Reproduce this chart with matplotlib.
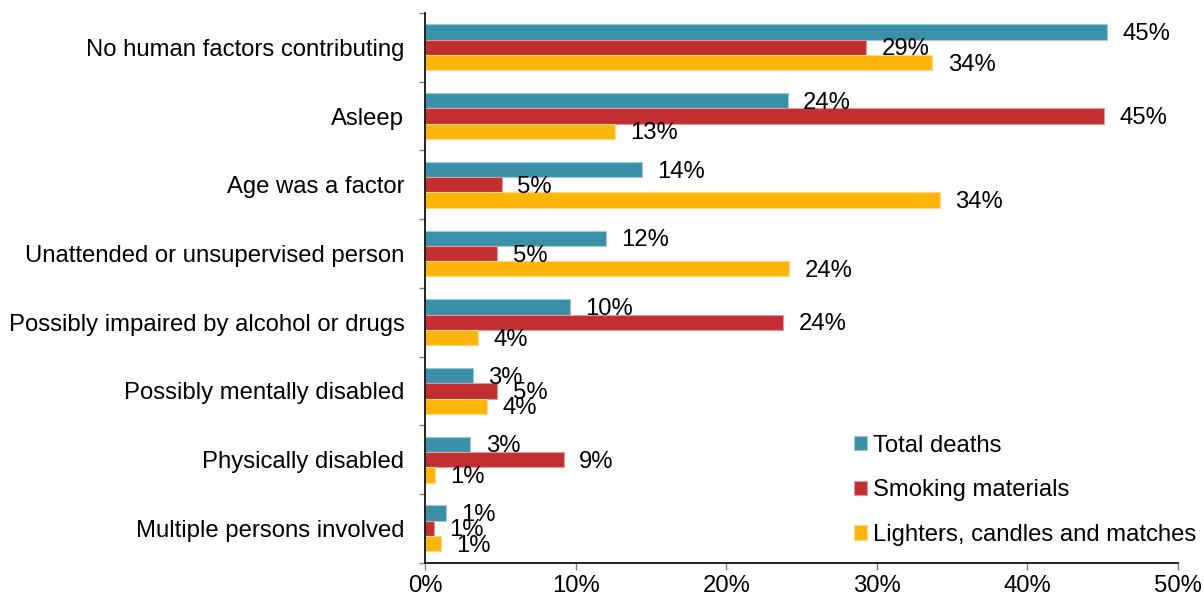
import numpy as np
import matplotlib
matplotlib.use("Agg")
import matplotlib.pyplot as plt
from matplotlib.ticker import FixedLocator, FuncFormatter

plt.rcParams['font.family'] = ['Liberation Sans', 'DejaVu Sans']

# human factors contributing to home fire deaths, share of deaths (%)
factors = [
    "No human factors contributing",
    "Asleep",
    "Age was a factor",
    "Unattended or unsupervised person",
    "Possibly impaired by alcohol or drugs",
    "Possibly mentally disabled",
    "Physically disabled",
    "Multiple persons involved",
]
total_deaths = [45.3, 24.1, 14.4, 12.0, 9.6, 3.15, 3.0, 1.36]
smoking = [29.3, 45.1, 5.1, 4.8, 23.8, 4.8, 9.2, 0.58]
lighters = [33.7, 12.6, 34.2, 24.2, 3.5, 4.1, 0.66, 1.02]

series = [
    ("Total deaths", total_deaths, "#3A90A8", "#9cc7d4"),
    ("Smoking materials", smoking, "#C32E30", "#e09a9b"),
    ("Lighters, candles and matches", lighters, "#FFB508", "#ffd98a"),
]

fig = plt.figure(figsize=(12.04, 6.06), dpi=100)
ax = fig.add_axes([0.3532, 0.0715, 0.625, 0.907])

y = np.arange(len(factors))
h = 0.223
fs = 17.2

for k, (name, vals, col, edge) in enumerate(series):
    pos = y + (k - 1) * h
    ax.barh(pos, vals, height=h, color=col, edgecolor=edge, linewidth=0.8, label=name)
    for p, v in zip(pos, vals):
        ax.annotate(f"{v:.0f}%", (v, p), xytext=(11, -1.5), textcoords="offset points",
                    ha="left", va="center", fontsize=fs)

ax.set_xlim(0, 50)
ax.set_ylim(len(factors) - 0.5, -0.5)

ax.set_xticks(np.arange(0, 51, 10))
ax.xaxis.set_major_formatter(FuncFormatter(lambda v, _: f"{v:.0f}%"))
ax.tick_params(axis="x", direction="out", length=5, width=1, color="#808080",
               labelsize=fs, pad=4)

ax.set_yticks(y)
ax.set_yticklabels(factors)
ax.yaxis.set_minor_locator(FixedLocator(np.arange(-0.5, len(factors), 1)))
ax.tick_params(axis="y", which="major", length=0, labelsize=fs, pad=15)
ax.tick_params(axis="y", which="minor", direction="out", length=4, width=1, color="#808080")

for s in ["top", "right"]:
    ax.spines[s].set_visible(False)
for s in ["left", "bottom"]:
    ax.spines[s].set_color("black")
    ax.spines[s].set_linewidth(1.2)

ax.legend(loc="upper left", bbox_to_anchor=(0.709, 0.283), bbox_transform=fig.transFigure,
          frameon=False, fontsize=fs, handlelength=0.55, handleheight=0.55,
          handletextpad=0.25, labelspacing=0.95, borderaxespad=0, borderpad=0)

fig.savefig("out.png", dpi=100)
